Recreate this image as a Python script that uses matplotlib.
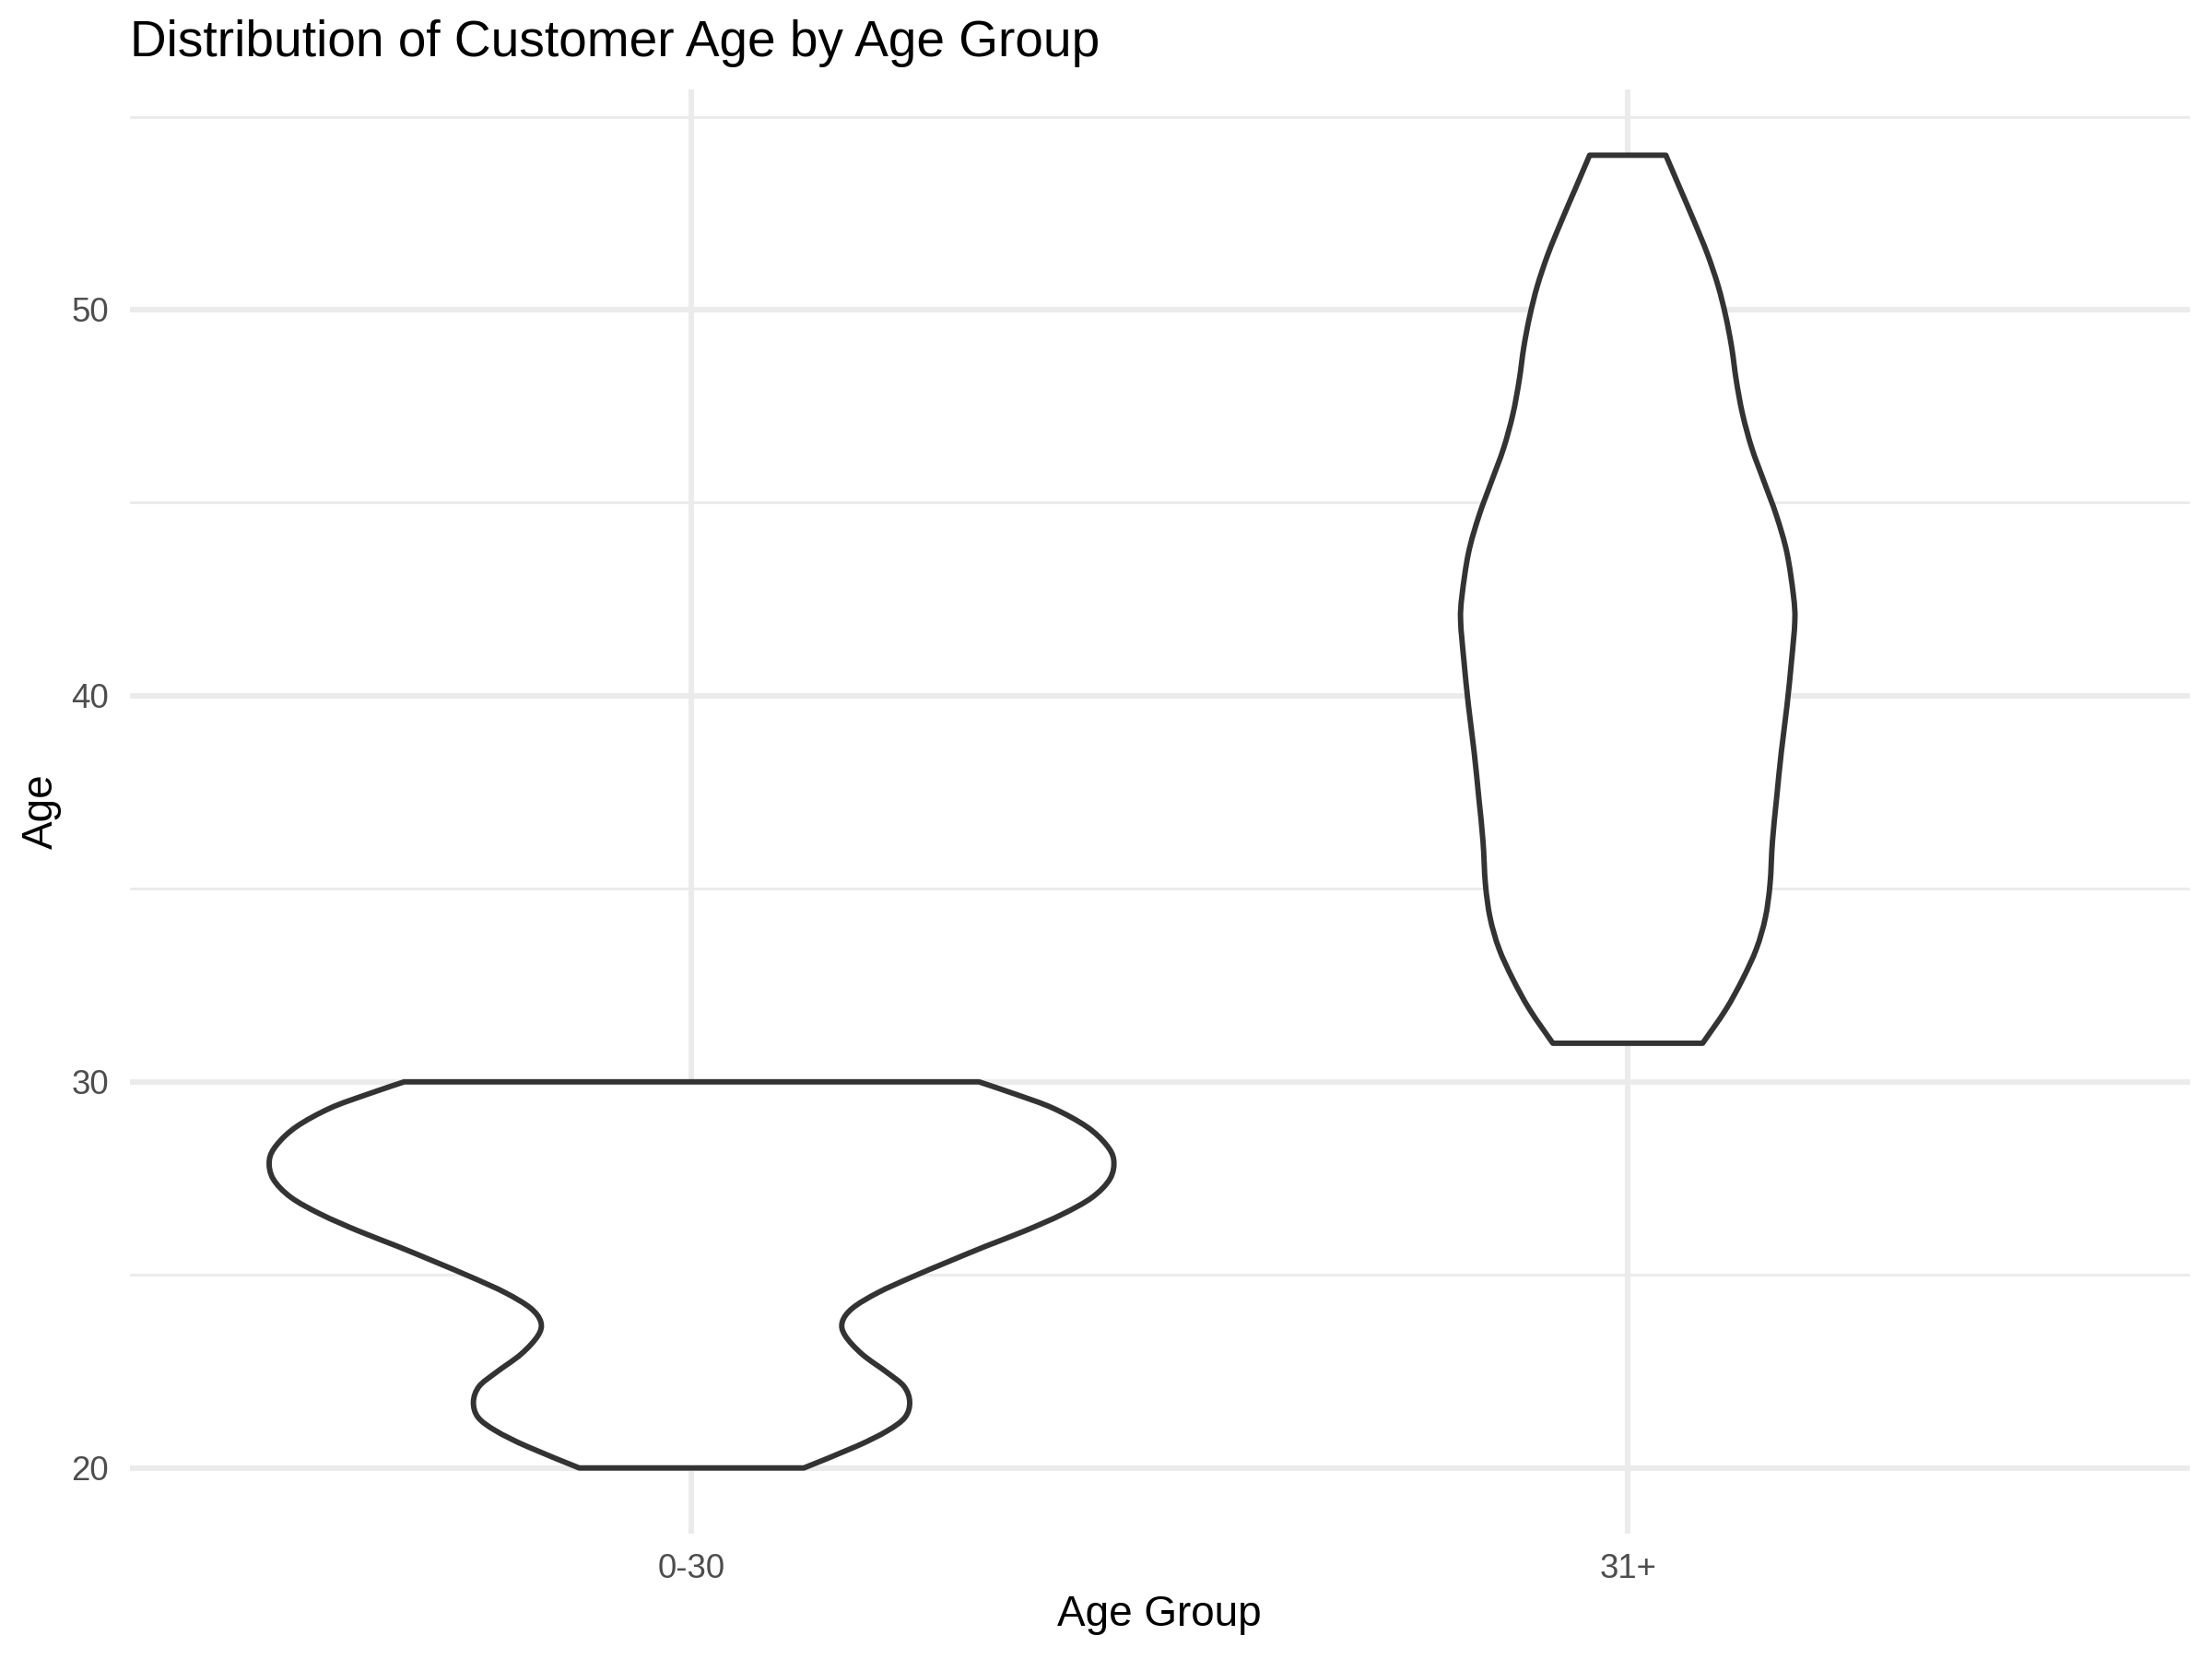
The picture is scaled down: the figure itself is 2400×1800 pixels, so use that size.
import matplotlib
matplotlib.use("Agg")
import matplotlib.pyplot as plt
import numpy as np
from matplotlib.path import Path
from matplotlib.patches import PathPatch

# categories and violin half-width profiles
groups = ["0-30", "31+"]

age_young = [20.0, 20.56, 20.96, 21.31, 21.71, 22.11, 22.47, 22.95, 23.43, 23.78, 24.14,
             24.54, 24.94, 25.34, 25.74, 26.14, 26.57, 27.01, 27.49, 27.97, 28.37, 28.84,
             29.32, 29.68, 30.0]
width_young = [0.120, 0.176, 0.209, 0.228, 0.233, 0.227, 0.209, 0.182, 0.164, 0.161, 0.172,
               0.199, 0.235, 0.274, 0.314, 0.356, 0.396, 0.428, 0.447, 0.451, 0.443, 0.422,
               0.386, 0.346, 0.307]

age_old = [31.0, 31.87, 32.66, 33.45, 34.25, 35.12, 36.23, 37.34, 38.53, 39.72, 40.91, 41.94,
           42.6, 43.71, 44.67, 45.54, 46.41, 47.29, 48.16, 49.03, 49.83, 50.62, 51.45,
           52.33, 53.16, 54.0]
width_old = [0.080, 0.1047, 0.1227, 0.1375, 0.147, 0.152, 0.1546, 0.159, 0.164, 0.170, 0.175, 0.1785,
             0.177, 0.170, 0.1588, 0.1457, 0.1326, 0.1227, 0.116, 0.111, 0.1047, 0.0965, 0.085,
             0.0702, 0.0555, 0.0407]

profiles = [(age_young, width_young), (age_old, width_old)]


def smooth_segments(pts):
    # catmull-rom through the points, as cubic bezier pieces
    verts = []
    n = len(pts)
    for i in range(n - 1):
        p0 = pts[max(i - 1, 0)]
        p1 = pts[i]
        p2 = pts[i + 1]
        p3 = pts[min(i + 2, n - 1)]
        c1 = p1 + (p2 - p0) / 6.0
        c2 = p2 - (p3 - p1) / 6.0
        verts += [c1, c2, p2]
    return verts


def violin_path(pos, ages, widths):
    ages = np.array(ages)
    widths = np.array(widths)
    left = np.column_stack([pos - widths, ages])
    right = np.column_stack([pos + widths, ages])[::-1]
    verts = [left[0]]
    codes = [Path.MOVETO]
    seg = smooth_segments(left)
    verts += seg
    codes += [Path.CURVE4] * len(seg)
    verts.append(right[0])
    codes.append(Path.LINETO)
    seg = smooth_segments(right)
    verts += seg
    codes += [Path.CURVE4] * len(seg)
    verts.append(left[0])
    codes.append(Path.CLOSEPOLY)
    return Path(np.array(verts), codes)


plt.rcParams["font.family"] = ["Liberation Sans", "DejaVu Sans"]

fig = plt.figure(figsize=(8, 6), dpi=300)
ax = fig.add_axes([0.0587, 0.0756, 0.9311, 0.8704])

for i, (ages, widths) in enumerate(profiles):
    patch = PathPatch(violin_path(i + 1, ages, widths), facecolor="white",
                      edgecolor="#333333", linewidth=1.42, joinstyle="round", zorder=3)
    ax.add_patch(patch)

ax.set_xlim(0.4, 2.6)
ax.set_ylim(18.3, 55.7)
ax.set_xticks([1, 2])
ax.set_xticklabels(groups)
ax.set_yticks([20, 30, 40, 50])
ax.set_yticks([25, 35, 45, 55], minor=True)

ax.grid(which="major", color="#EBEBEB", linewidth=1.42, zorder=0)
ax.grid(which="minor", axis="y", color="#EBEBEB", linewidth=0.71, zorder=0)
ax.set_axisbelow(True)
for s in ax.spines.values():
    s.set_visible(False)
ax.tick_params(which="both", length=0)
ax.tick_params(axis="y", labelsize=8.8, labelcolor="#4D4D4D", pad=5.5)
ax.tick_params(axis="x", labelsize=8.8, labelcolor="#4D4D4D", pad=5.0)

ax.set_xlabel("Age Group", fontsize=11, color="black")
ax.set_ylabel("Age", fontsize=11, color="black")
ax.xaxis.set_label_coords(0.5, -0.042)
ax.yaxis.set_label_coords(-0.033, 0.5)

fig.text(0.0587, 0.966, "Distribution of Customer Age by Age Group", fontsize=13.2,
         color="black", ha="left", va="baseline")

fig.savefig("out.png", dpi=300, facecolor="white")
